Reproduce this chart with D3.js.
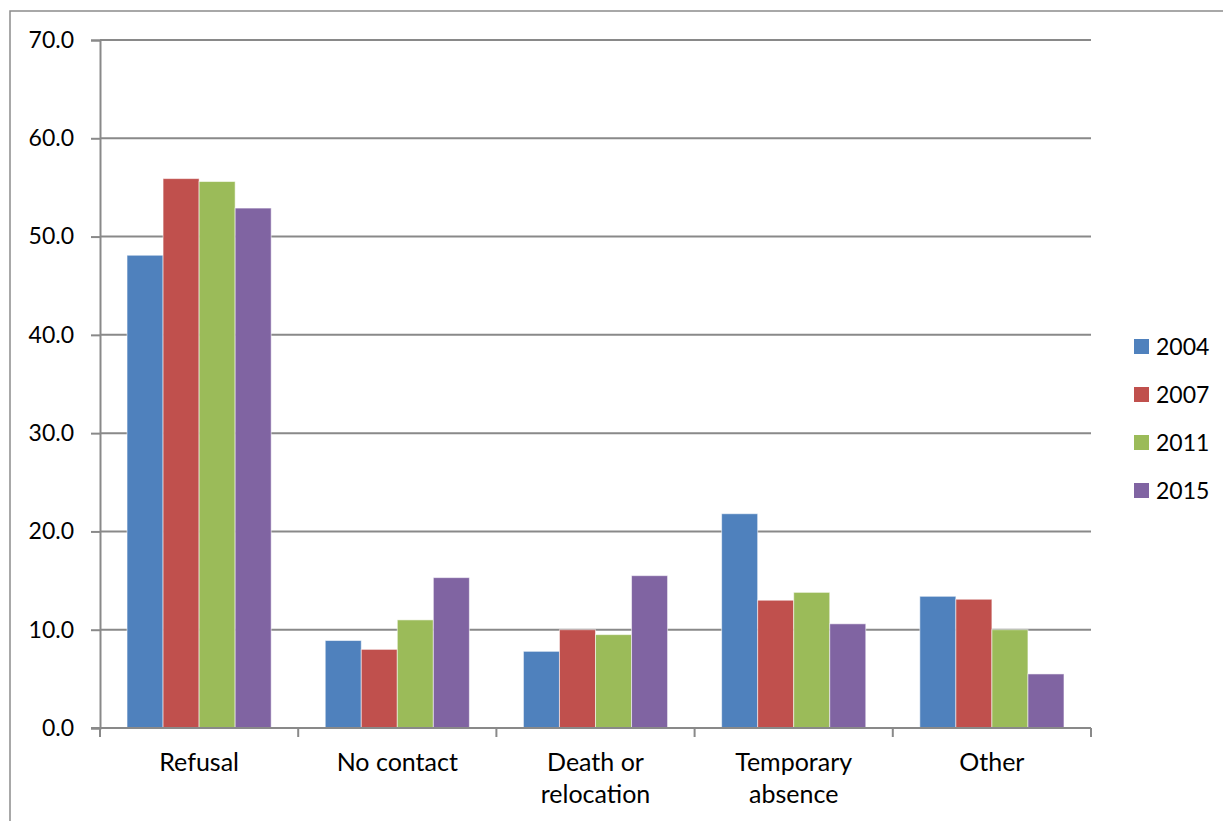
<!DOCTYPE html>
<html>
<head>
<meta charset="utf-8">
<script src="https://cdn.jsdelivr.net/npm/d3@7/dist/d3.min.js"></script>
<style>
  body { margin: 0; background: #fff; }
  text { font-family: Lato, "Open Sans", sans-serif; fill: #000; }
</style>
</head>
<body>
<svg id="chart" width="1223" height="821"></svg>
<script>
// reasons for non-response, percent
var categories = [["Refusal"], ["No contact"], ["Death or", "relocation"], ["Temporary", "absence"], ["Other"]];
var years = ["2004", "2007", "2011", "2015"];
var colors = ["#4F81BD", "#C0504D", "#9BBB59", "#8064A2"];
var v2004 = [48.1, 8.9, 7.8, 21.8, 13.4];
var v2007 = [55.9, 8.0, 10.0, 13.0, 13.1];
var v2011 = [55.6, 11.0, 9.5, 13.8, 10.0];
var v2015 = [52.9, 15.3, 15.5, 10.6, 5.5];
var yTicks = [0, 10, 20, 30, 40, 50, 60, 70];

var series = [v2004, v2007, v2011, v2015];
var svg = d3.select("#chart");

var plotLeft = 100, plotRight = 1091, plotTop = 40, plotBottom = 728;
var gridColor = "#898989";

// outer frame
svg.append("rect")
  .attr("x", 10).attr("y", 11)
  .attr("width", 1240).attr("height", 840)
  .attr("fill", "none")
  .attr("stroke", "#8c8c8c")
  .attr("stroke-width", 1.5);

var catIdx = d3.range(categories.length);
var x0 = d3.scaleBand().domain(catIdx).range([plotLeft, plotRight]).paddingInner(0).paddingOuter(0);
var x1 = d3.scaleBand().domain(d3.range(years.length)).range([0, x0.bandwidth()])
  .paddingInner(0).paddingOuter(0.75);
var y = d3.scaleLinear().domain([0, 70]).range([plotBottom, plotTop]);

// gridlines
svg.append("g").selectAll("line").data(yTicks.filter(function(d) { return d > 0; }))
  .enter().append("line")
  .attr("x1", plotLeft).attr("x2", plotRight)
  .attr("y1", function(d) { return y(d); })
  .attr("y2", function(d) { return y(d); })
  .attr("stroke", gridColor).attr("stroke-width", 2);

// y axis
var yAxis = svg.append("g")
  .attr("transform", "translate(" + plotLeft + ",0)")
  .call(d3.axisLeft(y).tickValues(yTicks).tickFormat(d3.format(".1f")).tickSize(9).tickPadding(17));
yAxis.select(".domain").attr("stroke", gridColor).attr("stroke-width", 2);
yAxis.selectAll(".tick line").attr("stroke", gridColor).attr("stroke-width", 2);
yAxis.selectAll(".tick text")
  .style("font-size", "23px")
  .style("font-family", "Lato, sans-serif")
  .attr("fill", "#000");

// bars
var groups = svg.append("g").selectAll("g").data(catIdx).enter().append("g")
  .attr("transform", function(c) { return "translate(" + x0(c) + ",0)"; });

groups.selectAll("rect")
  .data(function(c) { return series.map(function(s, i) { return { s: i, v: s[c] }; }); })
  .enter().append("rect")
  .attr("x", function(d) { return x1(d.s); })
  .attr("width", x1.bandwidth())
  .attr("y", function(d) { return y(d.v); })
  .attr("height", function(d) { return plotBottom - y(d.v); })
  .attr("fill", function(d) { return colors[d.s]; })
  .attr("stroke", "rgba(255,255,255,0.55)")
  .attr("stroke-width", 1);

// x axis line and boundary ticks
svg.append("line")
  .attr("x1", plotLeft - 9).attr("x2", plotRight)
  .attr("y1", plotBottom).attr("y2", plotBottom)
  .attr("stroke", gridColor).attr("stroke-width", 2);

var bounds = catIdx.map(function(c) { return x0(c); }).concat([plotRight]);
svg.append("g").selectAll("line").data(bounds).enter().append("line")
  .attr("x1", function(d) { return d; }).attr("x2", function(d) { return d; })
  .attr("y1", plotBottom).attr("y2", plotBottom + 9)
  .attr("stroke", gridColor).attr("stroke-width", 2);

// category labels
var labels = svg.append("g").selectAll("text").data(catIdx).enter().append("text")
  .attr("x", function(c) { return x0(c) + x0.bandwidth() / 2; })
  .attr("y", 771)
  .attr("text-anchor", "middle")
  .style("font-size", "25px");
labels.selectAll("tspan")
  .data(function(c) { return categories[c]; })
  .enter().append("tspan")
  .attr("x", function() { return d3.select(this.parentNode).attr("x"); })
  .attr("dy", function(d, i) { return i === 0 ? 0 : 32; })
  .text(function(d) { return d; });

// legend
var legend = svg.append("g").selectAll("g").data(years).enter().append("g")
  .attr("transform", function(d, i) { return "translate(1134," + (339 + i * 48) + ")"; });
legend.append("rect")
  .attr("width", 15).attr("height", 15)
  .attr("fill", function(d, i) { return colors[i]; });
legend.append("text")
  .attr("x", 22).attr("y", 16)
  .style("font-size", "23px")
  .text(function(d) { return d; });
</script>
</body>
</html>
